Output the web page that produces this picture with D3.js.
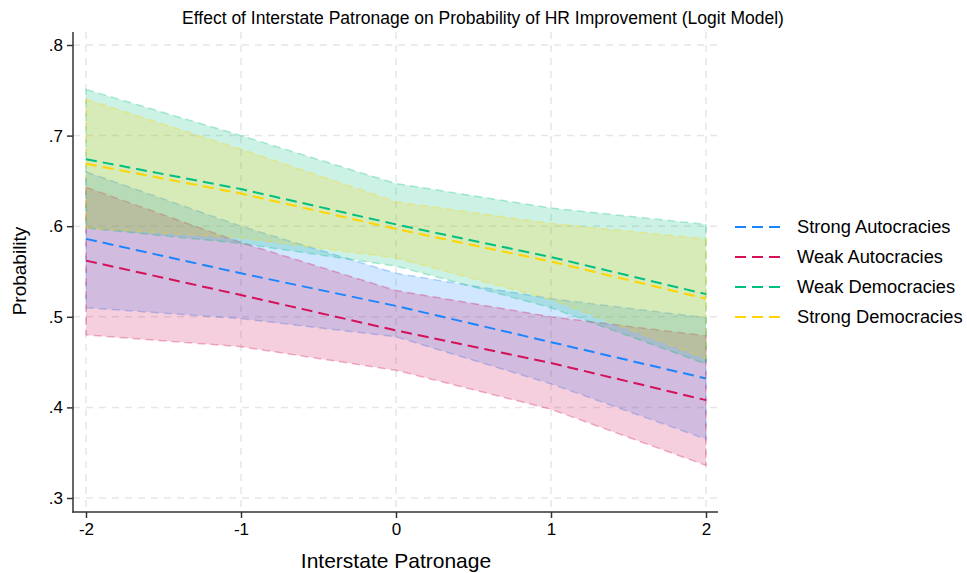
<!DOCTYPE html>
<html>
<head>
<meta charset="utf-8">
<script src="https://cdn.jsdelivr.net/npm/d3@7"></script>
<style>
  body { margin: 0; background: #fff; }
  text { font-family: "Liberation Sans", Arial, sans-serif; fill: #000; }
</style>
</head>
<body>
<div id="chart"></div>
<script>
// values
const patronage = [-2, -1, 0, 1, 2];
const seriesNames = ["Strong Autocracies", "Weak Autocracies", "Weak Democracies", "Strong Democracies"];
const seriesColors = ["#1a85ff", "#d41159", "#00bf7f", "#ffd400"];

const strongAutMean = [0.586, 0.548, 0.512, 0.472, 0.432];
const strongAutLow  = [0.510, 0.498, 0.478, 0.426, 0.365];
const strongAutHigh = [0.660, 0.600, 0.548, 0.520, 0.499];

const weakAutMean = [0.562, 0.524, 0.485, 0.449, 0.408];
const weakAutLow  = [0.480, 0.467, 0.441, 0.398, 0.336];
const weakAutHigh = [0.643, 0.582, 0.529, 0.500, 0.479];

const weakDemMean = [0.674, 0.641, 0.602, 0.566, 0.525];
const weakDemLow  = [0.598, 0.581, 0.556, 0.510, 0.448];
const weakDemHigh = [0.751, 0.700, 0.647, 0.620, 0.602];

const strongDemMean = [0.669, 0.636, 0.597, 0.561, 0.520];
const strongDemLow  = [0.598, 0.587, 0.565, 0.519, 0.454];
const strongDemHigh = [0.740, 0.685, 0.627, 0.603, 0.586];

const yTicks = [0.3, 0.4, 0.5, 0.6, 0.7, 0.8];
const yTickLabels = [".3", ".4", ".5", ".6", ".7", ".8"];

const series = [
  { mean: strongAutMean, low: strongAutLow, high: strongAutHigh },
  { mean: weakAutMean, low: weakAutLow, high: weakAutHigh },
  { mean: weakDemMean, low: weakDemLow, high: weakDemHigh },
  { mean: strongDemMean, low: strongDemLow, high: strongDemHigh }
].map((s, i) => ({
  name: seriesNames[i],
  color: seriesColors[i],
  points: patronage.map((p, j) => ({ x: p, m: s.mean[j], lo: s.low[j], hi: s.high[j] }))
}));

const W = 967, H = 573;
const svg = d3.select("#chart").append("svg")
  .attr("width", W)
  .attr("height", H);

const x = d3.scaleLinear().domain([-2, 2]).range([86, 706]);
const y = d3.scaleLinear().domain([0.3, 0.8]).range([498, 45]);

const plotLeft = 73, plotRight = 718, plotTop = 32, plotBottom = 512;

// gridlines
const grid = svg.append("g");
grid.selectAll("line.hg")
  .data(yTicks)
  .join("line")
  .attr("x1", plotLeft).attr("x2", plotRight)
  .attr("y1", d => y(d)).attr("y2", d => y(d))
  .attr("stroke", "#e6e6e6").attr("stroke-width", 1.5)
  .attr("stroke-dasharray", "7,6");
grid.selectAll("line.vg")
  .data(patronage)
  .join("line")
  .attr("x1", d => x(d)).attr("x2", d => x(d))
  .attr("y1", plotTop).attr("y2", plotBottom)
  .attr("stroke", "#e6e6e6").attr("stroke-width", 1.5)
  .attr("stroke-dasharray", "7,6");

// CI bands
const area = d3.area()
  .x(d => x(d.x))
  .y0(d => y(d.lo))
  .y1(d => y(d.hi));

const bands = svg.append("g");
series.forEach(s => {
  bands.append("path")
    .datum(s.points)
    .attr("d", area)
    .attr("fill", s.color)
    .attr("fill-opacity", 0.2)
    .attr("stroke", s.color)
    .attr("stroke-opacity", 0.3)
    .attr("stroke-width", 1.5)
    .attr("stroke-dasharray", "8,5");
});

// mean lines
const line = d3.line().x(d => x(d.x)).y(d => y(d.m));
const lines = svg.append("g");
series.forEach(s => {
  lines.append("path")
    .datum(s.points)
    .attr("d", line)
    .attr("fill", "none")
    .attr("stroke", s.color)
    .attr("stroke-width", 2)
    .attr("stroke-dasharray", "11,6");
});

// axes
const yAxis = d3.axisLeft(y)
  .tickValues(yTicks)
  .tickFormat((d, i) => yTickLabels[i])
  .tickSize(6)
  .tickPadding(4);
const yAxisG = svg.append("g")
  .attr("transform", `translate(${plotLeft},0)`)
  .call(yAxis);
yAxisG.select(".domain").remove();

const xAxis = d3.axisBottom(x)
  .tickValues(patronage)
  .tickFormat(d => d < 0 ? "-" + Math.abs(d) : String(d))
  .tickSize(6)
  .tickPadding(5);
const xAxisG = svg.append("g")
  .attr("transform", `translate(0,${plotBottom})`)
  .call(xAxis);
xAxisG.select(".domain").remove();

[yAxisG, xAxisG].forEach(a => {
  a.selectAll(".tick line").attr("stroke", "#333").attr("stroke-width", 1.5);
  a.selectAll(".tick text")
    .attr("font-size", 17)
    .attr("font-family", "Liberation Sans, Arial, sans-serif")
    .attr("fill", "#000");
});

svg.append("line")
  .attr("x1", plotLeft).attr("x2", plotLeft)
  .attr("y1", plotTop).attr("y2", plotBottom + 0.75)
  .attr("stroke", "#333").attr("stroke-width", 1.5);
svg.append("line")
  .attr("x1", plotLeft - 0.75).attr("x2", plotRight)
  .attr("y1", plotBottom).attr("y2", plotBottom)
  .attr("stroke", "#333").attr("stroke-width", 1.5);

// titles
svg.append("text")
  .attr("x", 483).attr("y", 24)
  .attr("text-anchor", "middle")
  .attr("font-size", 17.5)
  .text("Effect of Interstate Patronage on Probability of HR Improvement (Logit Model)");

svg.append("text")
  .attr("x", 396).attr("y", 568)
  .attr("text-anchor", "middle")
  .attr("font-size", 21)
  .text("Interstate Patronage");

svg.append("text")
  .attr("transform", "translate(26,271) rotate(-90)")
  .attr("text-anchor", "middle")
  .attr("font-size", 19)
  .text("Probability");

// legend
const legend = svg.append("g").attr("transform", "translate(735,227)");
const items = legend.selectAll("g")
  .data(series)
  .join("g")
  .attr("transform", (d, i) => `translate(0,${i * 30})`);
items.append("line")
  .attr("x1", 0).attr("x2", 50)
  .attr("stroke", d => d.color)
  .attr("stroke-width", 2)
  .attr("stroke-dasharray", "11,6");
items.append("text")
  .attr("x", 62).attr("y", 6)
  .attr("font-size", 18.3)
  .text(d => d.name);
</script>
</body>
</html>
